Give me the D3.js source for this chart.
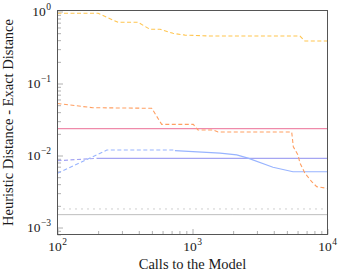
<!DOCTYPE html>
<html>
<head>
<meta charset="utf-8">
<script src="https://cdn.jsdelivr.net/npm/d3@7"></script>
<style>
  body { margin: 0; background: #fff; overflow: hidden; }
  svg { display: block; }
  svg text { font-family: "Liberation Serif", "DejaVu Serif", serif; fill: #1a1a1a; }
</style>
</head>
<body>
<svg id="svg" width="342" height="275"></svg>
<script>
// series
const yellowX = [100, 200, 281, 395, 484, 575, 717, 880, 1350, 6250, 6800, 10000];
const yellowY = [0.944, 0.944, 0.708, 0.708, 0.566, 0.566, 0.498, 0.470, 0.457, 0.457, 0.389, 0.389];

const orangeX = [100, 183, 499, 591, 1014, 1099, 1419, 1546, 5429, 5582, 6044, 6250, 6813, 7638, 8318, 10000];
const orangeY = [0.0527, 0.0461, 0.0453, 0.0271, 0.0271, 0.0226, 0.0226, 0.0212, 0.0212, 0.01325, 0.01016, 0.00787, 0.00566, 0.00433, 0.00369, 0.0035];

const lavDashX = [100, 195];
const lavDashY = [0.00847, 0.00914];
const lavSolidX = [195, 10000];
const lavSolidY = [0.00914, 0.00914];

const blueDashX = [100, 232, 741];
const blueDashY = [0.00566, 0.0119, 0.0119];
const blueSolidX = [741, 1600, 2125, 2576, 3946, 5550, 10000];
const blueSolidY = [0.0117, 0.0108, 0.0102, 0.0092, 0.00686, 0.00596, 0.00596];

const pinkLevel = 0.02356;
const grayLightLevel = 0.00181;
const grayDarkLevel = 0.00151;

const xMajor = [100, 1000, 10000];
const xMajorExp = ["2", "3", "4"];
const yMajor = [1, 0.1, 0.01, 0.001];
const yMajorExp = ["0", "−1", "−2", "−3"];

const xLabel = "Calls to the Model";
const yLabel = "Heuristic Distance - Exact Distance";

const svg = d3.select("#svg");
const margin = {top: 10.5, left: 57.5, right: 14.5, bottom: 40.5};
const width = 342, height = 275;
const innerWidth = width - margin.left - margin.right;
const innerHeight = height - margin.top - margin.bottom;

// scales map straight to page pixels
const xScale = d3.scaleLog().domain([100, 10000]).range([margin.left, width - margin.right]);
const yScale = d3.scaleLog().domain([Math.pow(10, -3.097), Math.pow(10, 0.014)])
  .range([height - margin.bottom, margin.top]);

// minor tick values
const xMinor = [];
[100, 1000].forEach(b => { for (let k = 2; k <= 9; k++) xMinor.push(b * k); });
const yMinor = [];
[0.0001, 0.001, 0.01, 0.1].forEach(b => { for (let k = 2; k <= 9; k++) {
  const v = b * k;
  if (v >= yScale.domain()[0] && v <= yScale.domain()[1]) yMinor.push(v);
}});

const tickColor = "#b0b0b0";
const bottomY = height - margin.bottom;
// x ticks (inward)
svg.append("g").attr("transform", `translate(0,${bottomY})`)
  .call(d3.axisBottom(xScale).tickValues(xMinor).tickSize(-3.5).tickFormat(""))
  .call(a => a.select(".domain").remove())
  .selectAll("line").attr("stroke", tickColor);
svg.append("g").attr("transform", `translate(0,${bottomY})`)
  .call(d3.axisBottom(xScale).tickValues(xMajor).tickSize(-5.5).tickFormat(""))
  .call(a => a.select(".domain").remove())
  .selectAll("line").attr("stroke", tickColor);
// y ticks (inward)
svg.append("g").attr("transform", `translate(${margin.left},0)`)
  .call(d3.axisLeft(yScale).tickValues(yMinor).tickSize(-3.5).tickFormat(""))
  .call(a => a.select(".domain").remove())
  .selectAll("line").attr("stroke", tickColor);
svg.append("g").attr("transform", `translate(${margin.left},0)`)
  .call(d3.axisLeft(yScale).tickValues(yMajor).tickSize(-5.5).tickFormat(""))
  .call(a => a.select(".domain").remove())
  .selectAll("line").attr("stroke", tickColor);

// tick labels: "10" plus a raised exponent, as two texts
const powerLabel = (x, y, exp, anchor) => {
  const base = svg.append("text").attr("y", y).attr("font-size", 13.5).text("10");
  const sup = svg.append("text").attr("y", y - 6).attr("font-size", 9.5).text(exp);
  const bw = base.node().getComputedTextLength();
  const sw = sup.node().getComputedTextLength();
  const total = bw + sw + 0.5;
  const left = anchor === "end" ? x - total : x - total / 2;
  base.attr("x", left);
  sup.attr("x", left + bw + 0.5);
};
xMajor.forEach((v, i) => powerLabel(xScale(v), bottomY + 16, xMajorExp[i], "middle"));
yMajor.forEach((v, i) => powerLabel(margin.left - 6.5, yScale(v) + 4.5, yMajorExp[i], "end"));

// axis titles
svg.append("text")
  .attr("x", margin.left + innerWidth / 2).attr("y", bottomY + 34)
  .attr("text-anchor", "middle").attr("font-size", 14.5)
  .text(xLabel);
svg.append("text")
  .attr("transform", `translate(${margin.left - 44.5},${margin.top + innerHeight / 2}) rotate(-90)`)
  .attr("text-anchor", "middle").attr("font-size", 14.5)
  .text(yLabel);

// lines
const line = d3.line().x(d => xScale(d[0])).y(d => yScale(d[1]));
const zip = (xs, ys) => xs.map((x, i) => [x, ys[i]]);
const flat = level => [[100, level], [10000, level]];

const drawLine = (pts, color, dash, w) => {
  svg.append("path")
    .attr("d", line(pts))
    .attr("fill", "none")
    .attr("stroke", color)
    .attr("stroke-width", w || 1.1)
    .attr("stroke-dasharray", dash || null);
};

drawLine(flat(grayLightLevel), "#a0a0a0", "1,5", 1);
drawLine(flat(grayDarkLevel), "#707070", "1,1", 0.9);
drawLine(flat(pinkLevel), "#ef8aaa", null, 1.3);
drawLine(zip(lavSolidX, lavSolidY), "#a5a5f2", null, 1.3);
drawLine(zip(lavDashX, lavDashY), "#a5a5f2", "4,2.5", 1.2);
drawLine(zip(blueDashX, blueDashY), "#98b4ff", "4,2.5", 1.1);
drawLine(zip(blueSolidX, blueSolidY), "#98b4ff", null, 1.1);
drawLine(zip(orangeX, orangeY), "#ff9f62", "4,2.5", 1.1);
drawLine(zip(yellowX, yellowY), "#ffc54f", "4,2.5", 1.1);

// frame
svg.append("rect")
  .attr("x", margin.left).attr("y", margin.top)
  .attr("width", innerWidth).attr("height", innerHeight)
  .attr("fill", "none").attr("stroke", "#555").attr("stroke-width", 1);
</script>
</body>
</html>
